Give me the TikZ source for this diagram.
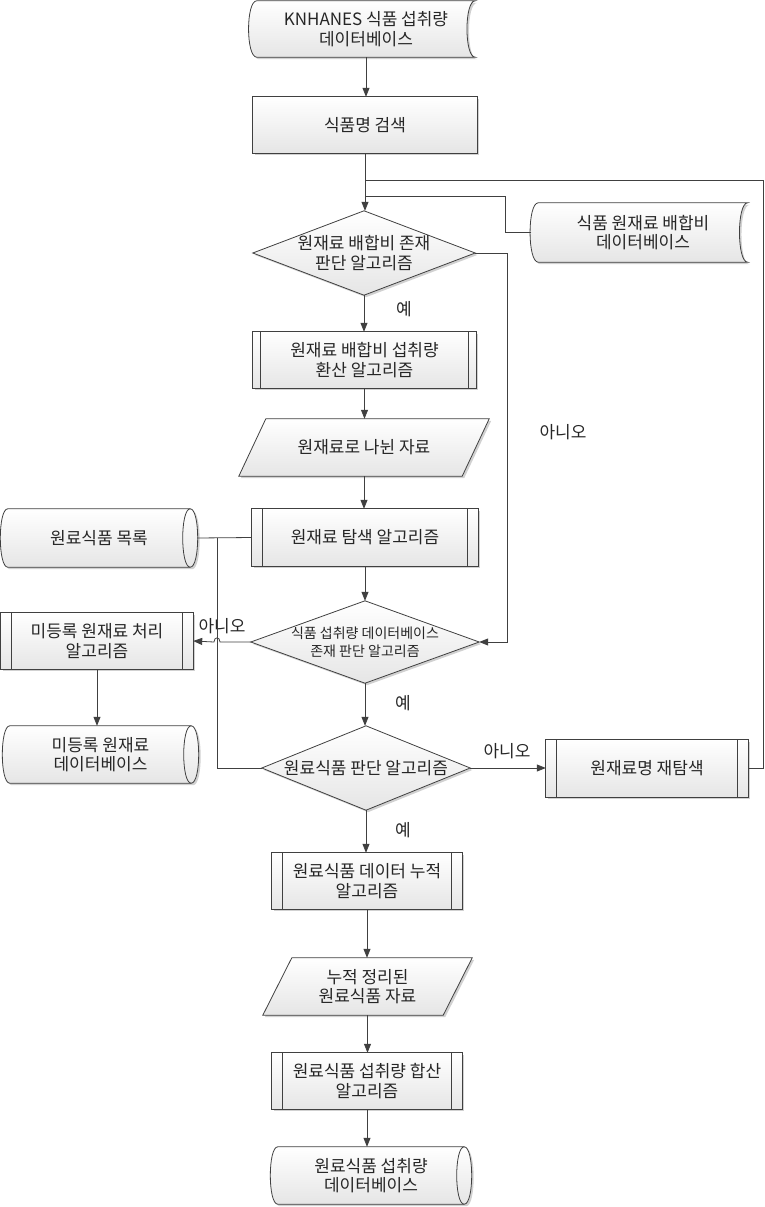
\documentclass[tikz,border=0pt]{standalone}
\usepackage{fontspec}
\setmainfont{Noto Sans CJK KR}
\usetikzlibrary{arrows.meta,shadows,backgrounds}
\definecolor{lc}{HTML}{404040}
\definecolor{tc}{HTML}{262626}
\tikzset{
  base/.style={rectangle, inner sep=0pt, align=center, text=tc, font=\fontsize{17}{19.5}\selectfont},
  sz/.style 2 args={minimum width=#1pt, minimum height=#2pt},
  shp/.style={draw=lc, line width=0.8pt, top color=white, bottom color=black!10,
    drop shadow={shadow xshift=2pt, shadow yshift=-2pt, fill=black!40, opacity=0.45}},
  con/.style={draw=lc, line width=0.8pt},
  arr/.style={con, -{Triangle[length=9pt,width=7pt]}},
  lbl/.style={text=tc, font=\fontsize{17}{19.5}\selectfont, inner sep=0pt},
}
% predefined process: name, bar offset
\newcommand\mkproc[2]{%
  \path[shp] (#1.north west) rectangle (#1.south east);
  \draw[con] ([xshift=#2pt]#1.north west) -- ([xshift=#2pt]#1.south west);
  \draw[con] ([xshift=-#2pt]#1.north east) -- ([xshift=-#2pt]#1.south east);}
% decision
\newcommand\mkdiam[1]{%
  \path[shp] (#1.north) -- (#1.east) -- (#1.south) -- (#1.west) -- cycle;}
% data (parallelogram): name, slant
\newcommand\mkio[2]{%
  \path[shp] ([xshift=#2pt]#1.north west) -- (#1.north east) -- ([xshift=-#2pt]#1.south east) -- (#1.south west) -- cycle;}
% stored data: name, control offset
\newcommand\mkstore[2]{%
  \path[shp] (#1.north west) -- (#1.north east)
    .. controls ([xshift=-#2pt]#1.north east) and ([xshift=-#2pt]#1.south east) .. (#1.south east)
    -- (#1.south west)
    .. controls ([xshift=-#2pt]#1.south west) and ([xshift=-#2pt]#1.north west) .. (#1.north west) -- cycle;}
% direct access storage: name, control offset
\newcommand\mkdirect[2]{%
  \path[shp] (#1.north west) -- (#1.north east)
    .. controls ([xshift=#2pt]#1.north east) and ([xshift=#2pt]#1.south east) .. (#1.south east)
    -- (#1.south west)
    .. controls ([xshift=-#2pt]#1.south west) and ([xshift=-#2pt]#1.north west) .. (#1.north west) -- cycle;
  \draw[con] (#1.north east)
    .. controls ([xshift=-#2pt]#1.north east) and ([xshift=-#2pt]#1.south east) .. (#1.south east);}

\begin{document}
\begin{tikzpicture}[x=1pt,y=-1pt]
\useasboundingbox (0,0) rectangle (765,1207);

% ---------- nodes ----------
\node[base, sz={218}{56}] (kn)  at (366,29)     {KNHANES 식품 섭취량\\데이터베이스};
\node[base, sz={224}{56}] (s1)  at (365,125)    {식품명 검색};
\node[base, sz={222}{84}] (d1)  at (364,253)    {원재료 배합비 존재\\판단 알고리즘};
\node[base, sz={209}{59}] (db2) at (643,232.5)  {식품 원재료 배합비\\데이터베이스};
\node[base, sz={223}{56}] (p1)  at (364.5,360)  {원재료 배합비 섭취량\\환산 알고리즘};
\node[base, sz={250}{57}] (io1) at (364,447.5)  {원재료로 나뉜 자료};
\node[base, sz={226}{57}] (p2)  at (365,537.5)  {원재료 탐색 알고리즘};
\node[base, sz={182}{58}] (db3) at (99,538)     {원료식품 목록};
\node[base, sz={228}{82}, font=\fontsize{14}{18}\selectfont] (d2) at (365,642) {식품 섭취량 데이터베이스\\존재 판단 알고리즘};
\node[base, sz={192}{56}] (p3)  at (97,641)     {미등록 원재료 처리\\알고리즘};
\node[base, sz={181}{57}] (db4) at (100.5,754.5){미등록 원재료\\데이터베이스};
\node[base, sz={208}{84}] (d3)  at (366,768)    {원료식품 판단 알고리즘};
\node[base, sz={202}{57}] (p4)  at (647,768.5)  {원재료명 재탐색};
\node[base, sz={190}{56}] (p5)  at (367,881)    {원료식품 데이터 누적\\알고리즘};
\node[base, sz={209}{57}] (io2) at (367.5,986.5){누적 정리된\\원료식품 자료};
\node[base, sz={190}{56}] (p6)  at (367,1081)   {원료식품 섭취량 합산\\알고리즘};
\node[base, sz={186}{57}] (db5) at (371,1175.5) {원료식품 섭취량\\데이터베이스};

% labels
\node[lbl] (l1) at (404,309) {예};
\node[lbl] (l2) at (563,432) {아니오};
\node[lbl] (l3) at (222,626) {아니오};
\node[lbl] (l4) at (403,703) {예};
\node[lbl] (l5) at (507,751) {아니오};
\node[lbl] (l6) at (403,830) {예};

% ---------- shapes ----------
\begin{pgfonlayer}{background}
\mkstore{kn}{11}
\mkproc{s1}{0}
\mkdiam{d1}
\mkstore{db2}{11}
\mkproc{p1}{8}
\mkio{io1}{27}
\mkproc{p2}{11}
\mkdirect{db3}{10}
\mkdiam{d2}
\mkproc{p3}{11}
\mkdirect{db4}{10}
\mkdiam{d3}
\mkproc{p4}{11}
\mkproc{p5}{11}
\mkio{io2}{29}
\mkproc{p6}{11}
\mkdirect{db5}{10}
\end{pgfonlayer}

% ---------- connectors ----------
\coordinate (jA) at (366,180);
\coordinate (jB) at (366,196);
\coordinate (cR) at (763,180);
\coordinate (cD) at (505,196);
\coordinate (cN) at (507,253);
\coordinate (jL) at (217,538);

\draw[arr] (kn.south) -- (kn.south |- s1.north);
\draw[arr] (s1.south) -- (s1.south |- d1.north);
\draw[con] (p4.east) -| (cR) -- (jA);
\draw[con] ([xshift=-7pt]db2.west) -| (cD) -- (jB);
\draw[arr] (d1.east) -- (cN) |- (d2.east);
\draw[arr] (d1.south) -- (d1.south |- p1.north);
\draw[arr] (p1.south) -- (p1.south |- io1.north);
\draw[arr] (io1.south) -- (io1.south |- p2.north);
\draw[arr] (p2.south) -- (p2.south |- d2.north);
\draw[con] ([xshift=7pt]db3.east) -- (p2.west);
\draw[con] (d3.west) -| (jL);
\draw[arr] (d2.west) -- (220,642) .. controls (220,636.5) and (214,636.5) .. (214,642) -- (p3.east);
\draw[arr] (d2.south) -- (d2.south |- d3.north);
\draw[arr] (d3.east) -- (d3.east -| p4.west);
\draw[arr] (p3.south) -- (p3.south |- db4.north);
\draw[arr] (d3.south) -- (d3.south |- p5.north);
\draw[arr] (p5.south) -- (p5.south |- io2.north);
\draw[arr] (io2.south) -- (io2.south |- p6.north);
\draw[arr] (p6.south) -- (p6.south |- db5.north);
\end{tikzpicture}
\end{document}
